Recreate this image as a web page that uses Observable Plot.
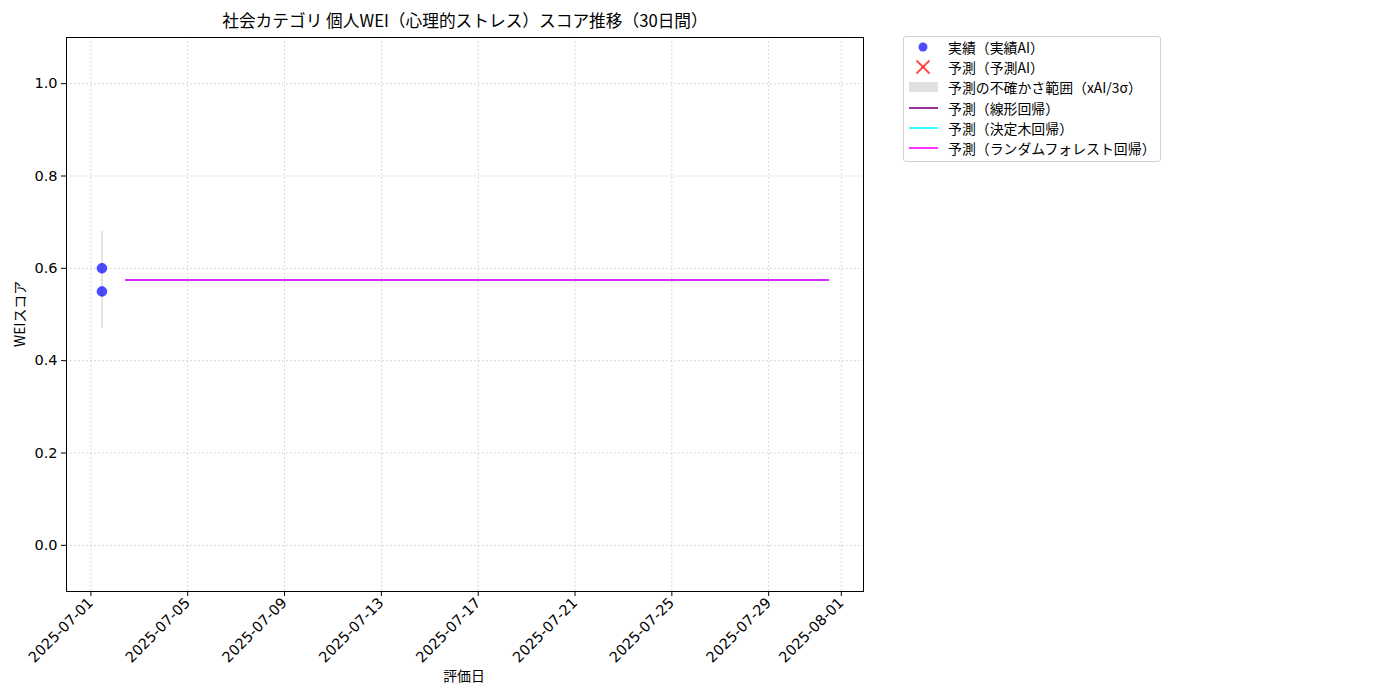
<!DOCTYPE html>
<html>
<head>
<meta charset="utf-8">
<script src="https://cdn.jsdelivr.net/npm/d3@7"></script>
<script src="https://cdn.jsdelivr.net/npm/@observablehq/plot@0.6"></script>
<style>
  body { margin: 0; background: #fff; font-family: "Noto Sans CJK JP", "Noto Sans", sans-serif; }
  #wrap { position: relative; width: 1400px; height: 700px; }
  .title { position: absolute; top: 8px; left: 465px; transform: translateX(-50%); font-size: 16.7px; white-space: nowrap; color: #000; }
  .xlabel { position: absolute; top: 665px; left: 464px; transform: translateX(-50%); font-size: 13.9px; white-space: nowrap; }
  .ylabel { position: absolute; left: 19px; top: 314px; transform: translate(-50%, -50%) rotate(-90deg); font-size: 13.9px; white-space: nowrap; }
  .legend { position: absolute; left: 903px; top: 36px; width: 256px; height: 124px; border: 1px solid #d0d0d0; border-radius: 3px; background: #fff; font-size: 13.9px; }
  .legend .row { position: absolute; left: 0; height: 20px; display: flex; align-items: center; white-space: nowrap; }
  .legend .row svg { width: 40px; height: 20px; margin-right: 0px; }
</style>
</head>
<body>
<div id="wrap"></div>
<script>
// ---- data ----
const actualDates = ["2025-07-01T11:00Z", "2025-07-01T11:00Z"];
const actualValues = [0.60, 0.55];
const bandDate = "2025-07-01T11:00Z";
const bandLow = 0.47;
const bandHigh = 0.68;
const forecastDates = [
  "2025-07-02T11:00Z","2025-07-03T11:00Z","2025-07-04T11:00Z","2025-07-05T11:00Z","2025-07-06T11:00Z",
  "2025-07-07T11:00Z","2025-07-08T11:00Z","2025-07-09T11:00Z","2025-07-10T11:00Z","2025-07-11T11:00Z",
  "2025-07-12T11:00Z","2025-07-13T11:00Z","2025-07-14T11:00Z","2025-07-15T11:00Z","2025-07-16T11:00Z",
  "2025-07-17T11:00Z","2025-07-18T11:00Z","2025-07-19T11:00Z","2025-07-20T11:00Z","2025-07-21T11:00Z",
  "2025-07-22T11:00Z","2025-07-23T11:00Z","2025-07-24T11:00Z","2025-07-25T11:00Z","2025-07-26T11:00Z",
  "2025-07-27T11:00Z","2025-07-28T11:00Z","2025-07-29T11:00Z","2025-07-30T11:00Z","2025-07-31T11:00Z"
];
const linearValues = [0.575,0.575,0.575,0.575,0.575,0.575,0.575,0.575,0.575,0.575,0.575,0.575,0.575,0.575,0.575,0.575,0.575,0.575,0.575,0.575,0.575,0.575,0.575,0.575,0.575,0.575,0.575,0.575,0.575,0.575];
const treeValues   = [0.575,0.575,0.575,0.575,0.575,0.575,0.575,0.575,0.575,0.575,0.575,0.575,0.575,0.575,0.575,0.575,0.575,0.575,0.575,0.575,0.575,0.575,0.575,0.575,0.575,0.575,0.575,0.575,0.575,0.575];
const forestValues = [0.575,0.575,0.575,0.575,0.575,0.575,0.575,0.575,0.575,0.575,0.575,0.575,0.575,0.575,0.575,0.575,0.575,0.575,0.575,0.575,0.575,0.575,0.575,0.575,0.575,0.575,0.575,0.575,0.575,0.575];
const xTicks = ["2025-07-01","2025-07-05","2025-07-09","2025-07-13","2025-07-17","2025-07-21","2025-07-25","2025-07-29","2025-08-01"];
const yTicks = [0.0, 0.2, 0.4, 0.6, 0.8, 1.0];
const xDomain = ["2025-06-29T23:50Z", "2025-08-01T22:00Z"];
const yDomain = [-0.1, 1.1];

const titleText = "社会カテゴリ 個人WEI（心理的ストレス）スコア推移（30日間）";
const xLabelText = "評価日";
const yLabelText = "WEIスコア";
const legendItems = [
  {label: "実績（実績AI）", kind: "dot", color: "blue"},
  {label: "予測（予測AI）", kind: "x", color: "red"},
  {label: "予測の不確かさ範囲（xAI/3σ）", kind: "patch", color: "#e0e0e0"},
  {label: "予測（線形回帰）", kind: "line", color: "purple"},
  {label: "予測（決定木回帰）", kind: "line", color: "cyan"},
  {label: "予測（ランダムフォレスト回帰）", kind: "line", color: "magenta"}
];

// ---- build ----
const P = d => new Date(d);
const actual = actualDates.map((d, i) => ({date: P(d), value: actualValues[i]}));
const mk = vals => forecastDates.map((d, i) => ({date: P(d), value: vals[i]}));
const linear = mk(linearValues), tree = mk(treeValues), forest = mk(forestValues);
const tickDates = xTicks.map(t => new Date(t + "T00:00Z"));

const gridStyle = {stroke: "#b0b0b0", strokeOpacity: 0.8, strokeDasharray: "1.5,2.5", strokeWidth: 0.8};

const chart = Plot.plot({
  width: 1400,
  height: 700,
  marginLeft: 66,
  marginRight: 537,
  marginTop: 37,
  marginBottom: 109,
  style: {fontFamily: "'Noto Sans CJK JP', 'Noto Sans', sans-serif", fontSize: "14.5px", color: "#000", background: "#fff"},
  x: {type: "utc", domain: xDomain.map(P)},
  y: {domain: yDomain},
  marks: [
    Plot.gridX(tickDates, gridStyle),
    Plot.gridY(yTicks, gridStyle),
    Plot.ruleX([{date: P(bandDate), lo: bandLow, hi: bandHigh}], {x: "date", y1: "lo", y2: "hi", stroke: "#d3d3d3", strokeWidth: 1.2}),
    Plot.dot(actual, {x: "date", y: "value", r: 5, fill: "blue", fillOpacity: 0.7, stroke: "blue", strokeOpacity: 0.7, strokeWidth: 0.5}),
    Plot.line(linear, {x: "date", y: "value", stroke: "purple", strokeOpacity: 0.8, strokeWidth: 2}),
    Plot.line(tree, {x: "date", y: "value", stroke: "cyan", strokeOpacity: 0.8, strokeWidth: 2}),
    Plot.line(forest, {x: "date", y: "value", stroke: "magenta", strokeOpacity: 0.8, strokeWidth: 2}),
    Plot.axisX({ticks: tickDates, tickFormat: d3.utcFormat("%Y-%m-%d"), tickRotate: -45, tickSize: 5, tickPadding: 4, label: null, fontSize: 14.5}),
    Plot.axisY({ticks: yTicks, tickFormat: d3.format(".1f"), tickSize: 5, tickPadding: 4, label: null, fontSize: 14.5}),
    Plot.frame({stroke: "#000", strokeWidth: 1})
  ]
});

const wrap = document.getElementById("wrap");
wrap.appendChild(chart);
// tick label font (wider latin digits like the reference)
chart.querySelectorAll('g[aria-label="x-axis tick label"], g[aria-label="y-axis tick label"]').forEach(g => {
  g.setAttribute("font-family", "DejaVu Sans, sans-serif");
});

const addDiv = (cls, text) => { const d = document.createElement("div"); d.className = cls; d.textContent = text; wrap.appendChild(d); return d; };
addDiv("title", titleText);
addDiv("xlabel", xLabelText);
addDiv("ylabel", yLabelText);

const leg = document.createElement("div");
leg.className = "legend";
legendItems.forEach((it, i) => {
  const row = document.createElement("div");
  row.className = "row";
  row.style.top = (0 + i * 20.2) + "px";
  row.style.left = "4px";
  let handle = "";
  if (it.kind === "dot") handle = `<circle cx="15" cy="10" r="4.5" fill="${it.color}" fill-opacity="0.7"/>`;
  else if (it.kind === "x") handle = `<g stroke="${it.color}" stroke-opacity="0.7" stroke-width="2"><line x1="8.5" y1="3.5" x2="21.5" y2="16.5"/><line x1="21.5" y1="3.5" x2="8.5" y2="16.5"/></g>`;
  else if (it.kind === "patch") handle = `<rect x="1" y="5" width="29" height="10" fill="${it.color}"/>`;
  else handle = `<line x1="1" y1="10" x2="30" y2="10" stroke="${it.color}" stroke-opacity="0.8" stroke-width="2"/>`;
  row.innerHTML = `<svg viewBox="0 0 40 20">${handle}</svg><span>${it.label}</span>`;
  leg.appendChild(row);
});
wrap.appendChild(leg);
</script>
</body>
</html>
